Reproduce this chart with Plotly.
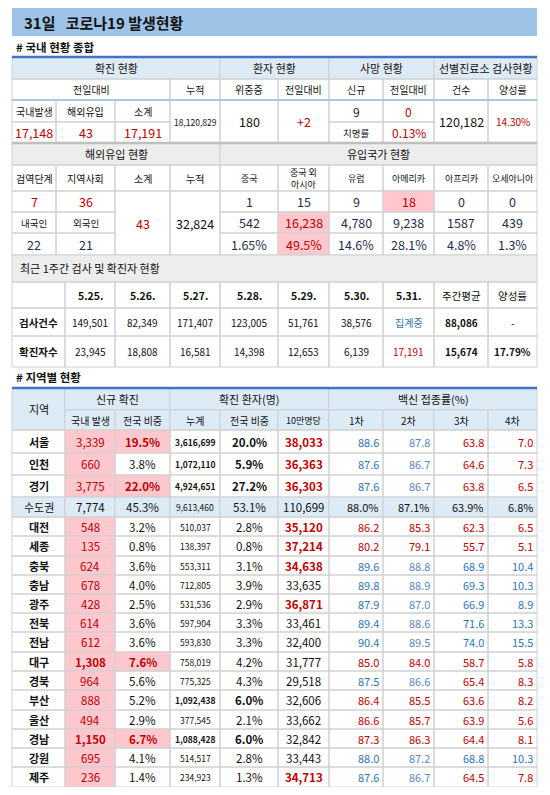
import plotly.graph_objects as go

FONT = "Noto Sans CJK KR"
RED = "#C00000"; BLUE = "#2E75B6"; NAVY = "#1F2D50"; BLK = "#111111"
HDR = "#DDEBF7"; GRAY = "#EDEDED"; PINK = "#FFC7CE"; LINE = "#D0D0D0"

title = "31일   코로나19 발생현황"
# --- top summary data
conf_hdr = ["국내발생", "해외유입", "소계"]
conf_vals = ["17,148", "43", "17,191"]
cum_total = "18,120,829"
severe, severe_diff = "180", "+2"
death_new, death_diff, fatality = "9", "0", "0.13%"
tests, pos_rate = "120,182", "14.30%"
# --- overseas inflow
inflow_hdr = ["검역단계", "지역사회", "소계", "누적", "중국", "중국 외<br>아시아", "유럽", "아메리카", "아프리카", "오세아니아"]
inflow_stage = ["7", "36"]
inflow_nat = ["22", "21"]
inflow_sub, inflow_cum = "43", "32,824"
country_today = ["1", "15", "9", "18", "0", "0"]
country_cum = ["542", "16,238", "4,780", "9,238", "1587", "439"]
country_pct = ["1.65%", "49.5%", "14.6%", "28.1%", "4.8%", "1.3%"]
# --- weekly
dates = ["5.25.", "5.26.", "5.27.", "5.28.", "5.29.", "5.30.", "5.31.", "주간평균", "양성률"]
week_tests = ["149,501", "82,349", "171,407", "123,005", "51,761", "38,576", "집계중", "88,086", "-"]
week_conf = ["23,945", "18,808", "16,581", "14,398", "12,653", "6,139", "17,191", "15,674", "17.79%"]
# --- regions
regions = ["서울", "인천", "경기", "수도권", "대전", "세종", "충북", "충남", "광주", "전북", "전남", "대구", "경북", "부산", "울산", "경남", "강원", "제주"]
new_local = ["3,339", "660", "3,775", "7,774", "548", "135", "624", "678", "428", "614", "612", "1,308", "964", "888", "494", "1,150", "695", "236"]
new_share = ["19.5%", "3.8%", "22.0%", "45.3%", "3.2%", "0.8%", "3.6%", "4.0%", "2.5%", "3.6%", "3.6%", "7.6%", "5.6%", "5.2%", "2.9%", "6.7%", "4.1%", "1.4%"]
cum = ["3,616,699", "1,072,110", "4,924,651", "9,613,460", "510,037", "138,397", "553,311", "712,805", "531,536", "597,904", "593,830", "758,019", "775,325", "1,092,438", "377,545", "1,088,428", "514,517", "234,923"]
cum_share = ["20.0%", "5.9%", "27.2%", "53.1%", "2.8%", "0.8%", "3.1%", "3.9%", "2.9%", "3.3%", "3.3%", "4.2%", "4.3%", "6.0%", "2.1%", "6.0%", "2.8%", "1.3%"]
per100k = ["38,033", "36,363", "36,303", "110,699", "35,120", "37,214", "34,638", "33,635", "36,871", "33,461", "32,400", "31,777", "29,518", "32,606", "33,662", "32,842", "33,443", "34,713"]
vac1 = ["88.6", "87.6", "87.6", "88.0%", "86.2", "80.2", "89.6", "89.8", "87.9", "89.4", "90.4", "85.0", "87.5", "86.4", "86.6", "87.3", "88.0", "87.6"]
vac2 = ["87.8", "86.7", "86.7", "87.1%", "85.3", "79.1", "88.8", "88.9", "87.0", "88.6", "89.5", "84.0", "86.6", "85.5", "85.7", "86.3", "87.2", "86.7"]
vac3 = ["63.8", "64.6", "63.8", "63.9%", "62.3", "55.7", "68.9", "69.3", "66.9", "71.6", "74.0", "58.7", "65.4", "63.6", "63.9", "64.4", "68.8", "64.5"]
vac4 = ["7.0", "7.3", "6.5", "6.8%", "6.5", "5.1", "10.4", "10.3", "8.9", "13.3", "15.5", "5.8", "8.3", "8.2", "5.6", "8.1", "10.3", "7.8"]
vac_color = ["bbrr", "bbrr", "bbrr", "kkkk", "rrrr", "rrrr", "bbbb", "bbbb", "bbbb", "bbbb", "bbbb", "rrrr", "bbrr", "rrrr", "rrrr", "rrrr", "bbbb", "bbrr"]
share_hi = [1, 0, 1, 0, 0, 0, 0, 0, 0, 0, 0, 1, 0, 0, 0, 1, 0, 0]
cum_big = [1, 1, 1, 0, 0, 0, 0, 0, 0, 0, 0, 0, 0, 1, 0, 1, 0, 0]
p100_red = [1, 1, 1, 0, 1, 1, 1, 0, 1, 0, 0, 0, 0, 0, 0, 0, 0, 1]

fig = go.Figure()
fig.add_trace(go.Scatter(x=[8, 542], y=[8, 787], mode="markers", marker=dict(opacity=0), hoverinfo="skip", showlegend=False))
shapes = []; anns = []

def cell(x0, x1, y0, y1, text="", bg=None, color=BLK, bold=False, size=11, align="center", border=True):
    if bg or border:
        shapes.append(dict(type="rect", x0=x0, x1=x1, y0=y0, y1=y1, fillcolor=bg or "rgba(0,0,0,0)",
                           line=dict(color=LINE, width=1) if border else dict(width=0), layer="below"))
    if text != "":
        t = f"<b>{text}</b>" if bold else text
        if align == "right":
            x, xa = x1 - 2, "right"
        elif align == "left":
            x, xa = x0 + 8, "left"
        else:
            x, xa = (x0 + x1) / 2, "center"
        anns.append(dict(x=x, y=(y0 + y1) / 2, text=t, showarrow=False, xanchor=xa, yanchor="middle",
                         font=dict(family=FONT, size=size, color=color)))

def hline(y, color, w, x0=12, x1=537):
    shapes.append(dict(type="line", x0=x0, x1=x1, y0=y, y1=y, line=dict(color=color, width=w), layer="above"))

# Title
cell(12, 537, 8, 36, bg="#9DC3E6", border=False)
anns.append(dict(x=22, y=22, text=f"<b>{title}</b>", showarrow=False, xanchor="left", font=dict(family=FONT, size=15, color=BLK)))
anns.append(dict(x=14, y=47, text="<b># 국내 현황 종합</b>", showarrow=False, xanchor="left", font=dict(family=FONT, size=11.5, color=BLK)))

C = [12, 56, 115, 170, 220, 278, 329, 383, 434, 488, 537]
for (a, b, t) in [(0, 4, "확진 현황"), (4, 6, "환자 현황"), (6, 8, "사망 현황"), (8, 10, "선별진료소 검사현황")]:
    cell(C[a], C[b], 57, 79, t, bg=HDR, size=11)
for (a, b, t) in [(0, 3, "전일대비"), (3, 4, "누적"), (4, 5, "위중증"), (5, 6, "전일대비"), (6, 7, "신규"), (7, 8, "전일대비"), (8, 9, "건수"), (9, 10, "양성률")]:
    cell(C[a], C[b], 79, 100, t, size=10)
for i in range(3):
    cell(C[i], C[i + 1], 100, 122, conf_hdr[i], size=10)
    cell(C[i], C[i + 1], 122, 143, conf_vals[i], color=RED, size=12.5)
cell(C[3], C[4], 100, 143, cum_total, size=8.5)
cell(C[4], C[5], 100, 143, severe, size=12.5)
cell(C[5], C[6], 100, 143, severe_diff, color=RED, size=12.5)
cell(C[6], C[7], 100, 122, death_new, size=12)
cell(C[7], C[8], 100, 122, death_diff, color=RED, size=12)
cell(C[6], C[7], 122, 143, "치명률", size=9.5)
cell(C[7], C[8], 122, 143, fatality, color=RED, size=12)
cell(C[8], C[9], 100, 143, tests, size=12.5)
cell(C[9], C[10], 100, 143, pos_rate, color=RED, size=10)
hline(57, "#4472C4", 2.5)
hline(100, "#9DC3E6", 1.5)

cell(C[0], C[4], 143, 165, "해외유입 현황", bg=GRAY, size=11)
cell(C[4], C[10], 143, 165, "유입국가 현황", bg=GRAY, size=11)
for i, t in enumerate(inflow_hdr):
    cell(C[i], C[i + 1], 165, 191, t, size=9 if i >= 4 else 10)
for i in range(2):
    cell(C[i], C[i + 1], 191, 212, inflow_stage[i], color=RED, size=12.5)
    cell(C[i], C[i + 1], 212, 233, ["내국인", "외국인"][i], size=9.5)
    cell(C[i], C[i + 1], 233, 255, inflow_nat[i], color=NAVY, size=12.5)
cell(C[2], C[3], 191, 255, inflow_sub, color=RED, size=12.5)
cell(C[3], C[4], 191, 255, inflow_cum, size=12.5)
for j in range(6):
    hi = (j == 3)
    cell(C[4 + j], C[5 + j], 191, 212, country_today[j], bg=PINK if hi else None, color=RED if hi else NAVY, size=12.5)
    hi = (j == 1)
    cell(C[4 + j], C[5 + j], 212, 233, country_cum[j], bg=PINK if hi else None, color=RED if hi else NAVY, size=12.5)
    cell(C[4 + j], C[5 + j], 233, 255, country_pct[j], bg=PINK if hi else None, color=RED if hi else NAVY, size=12.5)
hline(143, "#BFBFBF", 2.5)

W = [12, 65, 115, 170, 220, 278, 329, 383, 434, 488, 537]
cell(12, 537, 255, 282, bg=GRAY)
anns.append(dict(x=18, y=268, text="최근 1주간 검사 및 확진자 현황", showarrow=False, xanchor="left", font=dict(family=FONT, size=11, color=BLK)))
cell(W[0], W[1], 282, 308)
cell(W[0], W[1], 308, 336, "검사건수", bold=True, size=10.5)
cell(W[0], W[1], 336, 367, "확진자수", bold=True, size=10.5)
for i in range(9):
    cell(W[i + 1], W[i + 2], 282, 308, dates[i], bold=(i < 7), size=10.5)
    tc = BLUE if i == 6 else BLK
    cell(W[i + 1], W[i + 2], 308, 336, week_tests[i], color=tc, bold=(i == 7), size=10)
    cc = RED if i == 6 else BLK
    cell(W[i + 1], W[i + 2], 336, 367, week_conf[i], color=cc, bold=(i >= 7), size=10)

anns.append(dict(x=14, y=377, text="<b># 지역별 현황</b>", showarrow=False, xanchor="left", font=dict(family=FONT, size=11.5, color=BLK)))
cell(W[0], W[1], 388, 430, "지역", bg=HDR, size=11)
cell(W[1], W[3], 388, 410, "신규 확진", bg=HDR, size=11)
cell(W[3], W[6], 388, 410, "확진 환자(명)", bg=HDR, size=11)
cell(W[6], W[10], 388, 410, "백신 접종률(%)", bg=HDR, size=11)
for i, t in enumerate(["국내 발생", "전국 비중", "누계", "전국 비중", "10만명당", "1차", "2차", "3차", "4차"]):
    cell(W[i + 1], W[i + 2], 410, 430, t, bg=HDR, size=10 if i != 4 else 9)
hline(388, "#4472C4", 2.5)

R = [430, 453, 475, 497, 517, 536, 556, 575, 594, 613, 632, 652, 671, 690, 710, 729, 748, 767, 787]
cmap = {"b": BLUE, "r": RED, "k": BLK}
for k, reg in enumerate(regions):
    y0, y1 = R[k], R[k + 1]
    cap = (reg == "수도권")
    rowbg = HDR if cap else None
    bold_r = (k in (11, 15))
    cell(W[0], W[1], y0, y1, reg, bg=rowbg, bold=not cap, size=11)
    cell(W[1], W[2], y0, y1, new_local[k], bg=rowbg if cap else PINK, color=BLK if cap else RED, bold=bold_r, size=11.5)
    cell(W[2], W[3], y0, y1, new_share[k], bg=PINK if share_hi[k] else rowbg, color=RED if share_hi[k] else BLK, bold=bool(share_hi[k]), size=11.5)
    cell(W[3], W[4], y0, y1, cum[k], bg=rowbg, bold=bool(cum_big[k]), size=8.5)
    cell(W[4], W[5], y0, y1, cum_share[k], bg=rowbg, bold=bool(cum_big[k]), size=11.5)
    cell(W[5], W[6], y0, y1, per100k[k], bg=rowbg, color=RED if p100_red[k] else BLK, bold=bool(p100_red[k]), size=11.5)
    for j, v in enumerate([vac1, vac2, vac3, vac4]):
        col = cmap[vac_color[k][j]]
        if j == 1 and col == BLUE:
            col = "#5B86BF"
        cell(W[6 + j], W[7 + j], y0, y1, v[k], bg=rowbg, color=col, size=11, align="right")

# page body has an 8px margin: map page pixels 8..542 / 8..787 onto the plot
fig.update_layout(width=534, height=779, margin=dict(l=0, r=0, t=0, b=0), plot_bgcolor="white", paper_bgcolor="white",
                  xaxis=dict(range=[8, 542], visible=False, fixedrange=True),
                  yaxis=dict(range=[787, 8], visible=False, fixedrange=True),
                  shapes=shapes, annotations=anns, showlegend=False)
fig.write_html("out.html")
